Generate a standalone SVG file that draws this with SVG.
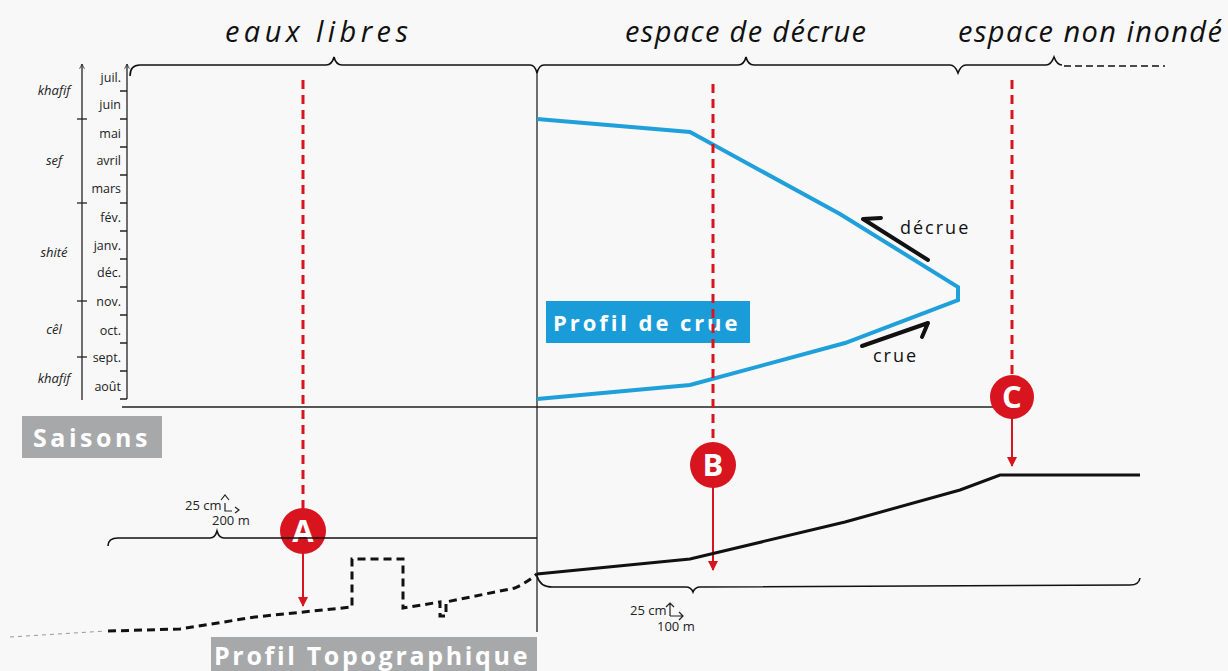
<svg xmlns="http://www.w3.org/2000/svg" width="1228" height="671" viewBox="0 0 1228 671">
<defs>
<style>
.bg{fill:#f8f8f8}
.ax{stroke:#222;stroke-width:1.3;fill:none}
.thin{stroke:#111;stroke-width:1.6;fill:none}
.mon{font-family:"Open Sans","Liberation Sans",sans-serif;font-size:12.5px;fill:#222;text-anchor:end}
.sea{font-family:"Open Sans","Liberation Sans",sans-serif;font-size:13px;font-style:italic;fill:#222;text-anchor:middle}
.head{font-family:"Open Sans","Liberation Sans",sans-serif;font-size:29px;font-style:italic;fill:#111;letter-spacing:2px}
.lbl{font-family:"Open Sans","Liberation Sans",sans-serif;font-size:18px;fill:#111;letter-spacing:2px}
.box{font-family:"Open Sans","Liberation Sans",sans-serif;font-weight:bold;fill:#fff;letter-spacing:2.5px}
.sc{font-family:"Open Sans","Liberation Sans",sans-serif;font-size:13px;fill:#222}
.red{stroke:#d8141f;stroke-width:3;stroke-dasharray:9 6;fill:none}
.redar{stroke:#d8141f;stroke-width:2;fill:none}
.circ{fill:#d8141f}
.let{font-family:"Open Sans","Liberation Sans",sans-serif;font-weight:bold;font-size:31px;fill:#fff;text-anchor:middle}
</style>
<marker id="ra" viewBox="0 0 10 10" refX="9" refY="5" markerWidth="5" markerHeight="5" orient="auto" markerUnits="strokeWidth"><path d="M0,0 L10,5 L0,10 z" fill="#d8141f"/></marker>
<marker id="oa" viewBox="0 0 10 10" refX="9" refY="5" markerWidth="6" markerHeight="6" orient="auto" markerUnits="userSpaceOnUse"><path d="M1,1 L9,5 L1,9" fill="none" stroke="#222" stroke-width="1.3"/></marker>
</defs>
<rect class="bg" x="0" y="0" width="1228" height="671"/>

<g id="headings">
<text class="head" x="225" y="42" textLength="185" lengthAdjust="spacing">eaux libres</text>
<text class="head" x="625" y="42" textLength="243" lengthAdjust="spacing">espace de décrue</text>
<text class="head" x="958" y="42" textLength="266" lengthAdjust="spacing">espace non inondé</text>
</g>

<g id="season-axis">
<line class="ax" x1="82" y1="400" x2="82" y2="64" marker-end="url(#oa)"/>
<line class="ax" x1="77" y1="119" x2="87" y2="119"/>
<line class="ax" x1="77" y1="203" x2="87" y2="203"/>
<line class="ax" x1="77" y1="301" x2="87" y2="301"/>
<line class="ax" x1="77" y1="357" x2="87" y2="357"/>
<text class="sea" x="54" y="95">khafif</text>
<text class="sea" x="54" y="165">sef</text>
<text class="sea" x="54" y="257">shité</text>
<text class="sea" x="54" y="334">cêl</text>
<text class="sea" x="54" y="383">khafif</text>
</g>

<g id="month-axis">
<line class="ax" x1="127" y1="399" x2="127" y2="64" marker-end="url(#oa)"/>
<path class="ax" d="M120,91H127M120,119H127M120,147H127M120,175H127M120,203H127M120,231H127M120,259H127M120,287H127M120,315H127M120,343H127M120,371H127M120,399H127"/>
<text class="mon" x="121" y="82">juil.</text>
<text class="mon" x="121" y="109">juin</text>
<text class="mon" x="121" y="138">mai</text>
<text class="mon" x="121" y="165">avril</text>
<text class="mon" x="121" y="193">mars</text>
<text class="mon" x="121" y="222">fév.</text>
<text class="mon" x="121" y="250">janv.</text>
<text class="mon" x="121" y="277">déc.</text>
<text class="mon" x="121" y="306">nov.</text>
<text class="mon" x="121" y="335">oct.</text>
<text class="mon" x="121" y="362">sept.</text>
<text class="mon" x="121" y="391">août</text>
</g>

<g id="frame">
<line class="ax" x1="122" y1="407" x2="1000" y2="407"/>
<line class="ax" x1="537" y1="72" x2="537" y2="632"/>
</g>

<g id="top-braces">
<path class="thin" d="M130,76 Q130,65 140,65 L326,65 Q332,65 334,57 Q336,65 342,65 L530,65 Q535,65 537,73 Q539,65 544,65 L738,65 Q744,65 746,57 Q748,65 754,65 L950,65 Q955,65 958,73 Q961,65 966,65 L1046,65 Q1051,65 1054,57 Q1057,65 1062,65"/>
<line x1="1064" y1="66" x2="1165" y2="66" stroke="#111" stroke-width="1.6" stroke-dasharray="7 4"/>
</g>

<g id="profil-crue">
<polyline points="537,119 690,132 840,214 958,287 958,300 845,343 690,385 537,399" fill="none" stroke="#20a0db" stroke-width="4" stroke-linejoin="miter"/>
<rect x="546" y="301" width="204" height="42" fill="#1a9cd8"/>
<text class="box" x="553" y="331" font-size="22" textLength="187" lengthAdjust="spacing">Profil de crue</text>
</g>

<g id="decrue">
<path d="M928,260 L863,219 L881,218" fill="none" stroke="#111" stroke-width="4" stroke-linecap="round" stroke-linejoin="round"/>
<text class="lbl" x="900" y="234">décrue</text>
</g>
<g id="crue">
<path d="M862,346 L928,323 L922,337" fill="none" stroke="#111" stroke-width="4" stroke-linecap="round" stroke-linejoin="round"/>
<text class="lbl" x="873" y="362">crue</text>
</g>

<g id="saisons">
<rect x="22" y="416" width="140" height="42" fill="#a7a8aa"/>
<text class="box" x="33" y="447" font-size="25" textLength="117" lengthAdjust="spacing">Saisons</text>
</g>

<g id="connectors">
<line class="red" x1="303" y1="80" x2="303" y2="510"/>
<line class="redar" x1="303" y1="553" x2="303" y2="606" marker-end="url(#ra)"/>
<line class="red" x1="713" y1="84" x2="713" y2="444"/>
<line class="redar" x1="713" y1="487" x2="713" y2="570" marker-end="url(#ra)"/>
<line class="red" x1="1012" y1="80" x2="1012" y2="377"/>
<line class="redar" x1="1012" y1="418" x2="1012" y2="466" marker-end="url(#ra)"/>
</g>

<g id="node-A">
<circle class="circ" cx="303" cy="531" r="23"/>
<text class="let" x="303" y="542">A</text>
</g>
<g id="node-B">
<circle class="circ" cx="713" cy="465" r="23"/>
<text class="let" x="713" y="476">B</text>
</g>
<g id="node-C">
<circle class="circ" cx="1012" cy="397" r="22"/>
<text class="let" x="1012" y="408">C</text>
</g>

<g id="profil-topo">
<line x1="10" y1="637" x2="106" y2="631" stroke="#999" stroke-width="1" stroke-dasharray="4 4"/>
<path d="M108,631 L180,629 L255,617 L352,607 L352,559 L403,559 L403,608 L440,602 L440,616 L446,616 L446,602 L515,588 Q526,583 537,574" fill="none" stroke="#111" stroke-width="3" stroke-dasharray="8 5"/>
<polyline points="537,574 690,559 845,522 960,490 1000,475 1140,475" fill="none" stroke="#111" stroke-width="3"/>
<path class="thin" d="M108,546 Q108,538 118,538 L210,538 Q215,538 217,531 Q219,538 224,538 L537,538" stroke-width="1.3"/>
<path class="thin" d="M537,576 Q540,587 552,587 L686,587 Q691,587 693,592 Q695,587 700,587 L1130,585 Q1139,585 1140,578" stroke-width="1.3"/>
<rect x="211" y="637" width="326" height="34" fill="#a7a8aa"/>
<text class="box" x="214" y="665" font-size="25" textLength="316" lengthAdjust="spacing">Profil Topographique</text>
</g>

<g id="scale-left">
<text class="sc" x="185" y="510">25 cm</text>
<text class="sc" x="212" y="525">200 m</text>
<path d="M221,500 L225,495 L229,500" fill="none" stroke="#222" stroke-width="1.2"/>
<path d="M225,503 L225,511 L232,511" fill="none" stroke="#222" stroke-width="1.2"/>
<path d="M235,507 L239,510 L235,513" fill="none" stroke="#222" stroke-width="1.2"/>
</g>
<g id="scale-right">
<text class="sc" x="630" y="615">25 cm</text>
<text class="sc" x="657" y="631">100 m</text>
<path d="M670,616 L670,603 M666,607 L670,603 L674,607 M670,616 L683,616 M679,612 L683,616 L679,620" fill="none" stroke="#222" stroke-width="1.2"/>
</g>
</svg>
